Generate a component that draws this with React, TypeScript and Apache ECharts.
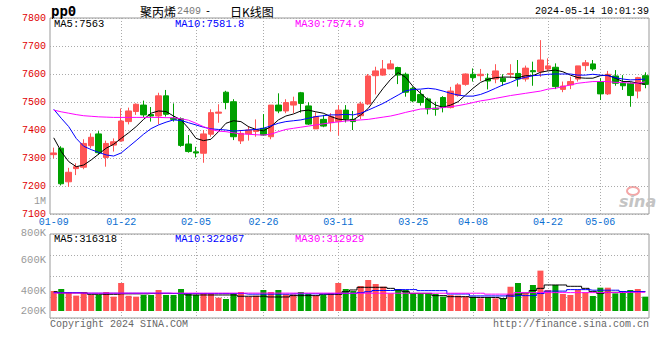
import React, { useEffect, useRef } from 'react';
import * as echarts from 'echarts';

const dates = [
  '01-09','01-10','01-11','01-12','01-15','01-16','01-17','01-18','01-19','01-22',
  '01-23','01-24','01-25','01-26','01-29','01-30','01-31','02-01','02-02','02-05',
  '02-06','02-07','02-08','02-19','02-20','02-21','02-22','02-23','02-26','02-27',
  '02-28','02-29','03-01','03-04','03-05','03-06','03-07','03-08','03-11','03-12',
  '03-13','03-14','03-15','03-18','03-19','03-20','03-21','03-22','03-25','03-26',
  '03-27','03-28','03-29','04-01','04-02','04-03','04-08','04-09','04-10','04-11',
  '04-12','04-15','04-16','04-17','04-18','04-19','04-22','04-23','04-24','04-25',
  '04-26','04-29','04-30','05-06','05-07','05-08','05-09','05-10','05-13','05-14'
];
const labelDates = ['01-09','01-22','02-05','02-26','03-11','03-25','04-08','04-22','05-06'];

const opens = [
  7312,7335,7215,7262,7267,7344,7386,7302,7346,7361,
  7430,7466,7489,7455,7450,7522,7442,7440,7350,7322,
  7317,7385,7460,7535,7501,7361,7386,7395,7406,7376,
  7489,7468,7489,7533,7486,7404,7438,7426,7430,7471,
  7438,7451,7493,7594,7596,7618,7623,7599,7549,7527,
  7511,7478,7516,7480,7523,7563,7599,7594,7585,7582,
  7585,7599,7602,7582,7612,7608,7618,7624,7545,7561,
  7582,7630,7636,7573,7529,7593,7567,7567,7539,7594
];
const closes = [
  7318,7208,7249,7269,7352,7374,7319,7352,7358,7432,
  7468,7492,7454,7450,7522,7456,7438,7345,7323,7318,
  7386,7462,7464,7498,7376,7388,7400,7400,7382,7489,
  7468,7498,7501,7495,7421,7448,7414,7448,7471,7439,
  7430,7493,7593,7611,7618,7636,7596,7535,7504,7498,
  7475,7474,7481,7539,7561,7600,7587,7599,7575,7611,
  7573,7602,7582,7621,7608,7650,7629,7555,7557,7573,
  7629,7640,7618,7529,7599,7567,7558,7523,7587,7563
];
const highs = [
  7337,7342,7265,7281,7367,7388,7396,7362,7370,7477,
  7480,7495,7505,7482,7533,7543,7495,7445,7382,7340,
  7400,7474,7492,7540,7510,7400,7414,7438,7457,7489,
  7531,7510,7519,7536,7499,7463,7454,7460,7489,7489,
  7468,7501,7600,7626,7650,7650,7626,7605,7555,7543,
  7516,7501,7521,7554,7567,7602,7620,7618,7602,7635,
  7599,7635,7650,7630,7644,7721,7656,7638,7573,7590,
  7629,7650,7650,7585,7611,7614,7596,7570,7590,7606
];
const lows = [
  7299,7202,7197,7239,7260,7335,7311,7269,7323,7358,
  7420,7454,7445,7430,7420,7448,7430,7340,7319,7302,
  7283,7376,7426,7474,7364,7350,7362,7376,7380,7367,
  7460,7460,7460,7462,7418,7404,7410,7394,7380,7427,
  7400,7439,7489,7527,7594,7618,7564,7519,7499,7487,
  7456,7451,7463,7477,7519,7558,7573,7575,7545,7567,
  7558,7585,7555,7573,7558,7590,7611,7546,7535,7546,
  7573,7611,7611,7507,7525,7558,7543,7483,7513,7549
];

const ma5 = [
  7372,7323,7287,7269,7275,7293,7314,7335,7349,7370,
  7390,7412,7438,7460,7468,7466,7450,7436,7406,7370,
  7362,7367,7394,7424,7433,7430,7412,7402,7397,7412,
  7436,7450,7457,7468,7471,7465,7460,7448,7439,7436,
  7436,7454,7477,7513,7549,7581,7605,7588,7555,7531,
  7507,7489,7481,7489,7501,7525,7549,7570,7581,7587,
  7589,7589,7587,7594,7594,7606,7611,7614,7608,7596,
  7587,7585,7585,7594,7596,7585,7573,7573,7567,7563
];
const ma10 = [
  7474,7442,7412,7370,7342,7330,7320,7311,7307,7318,
  7340,7362,7385,7405,7418,7428,7436,7434,7426,7418,
  7410,7404,7402,7400,7396,7398,7400,7402,7406,7415,
  7424,7430,7433,7436,7442,7448,7451,7454,7454,7456,
  7454,7460,7471,7483,7495,7510,7525,7540,7545,7546,
  7549,7546,7539,7531,7525,7521,7521,7527,7537,7549,
  7561,7570,7582,7588,7594,7596,7599,7600,7600,7600,
  7596,7596,7599,7596,7594,7587,7582,7579,7580,7582
];
const ma30 = [
  7471,7465,7460,7455,7451,7449,7447,7446,7445,7445,
  7445,7445,7445,7445,7445,7444,7444,7440,7435,7424,
  7412,7402,7396,7394,7390,7386,7385,7383,7382,7385,
  7394,7402,7406,7410,7414,7418,7422,7426,7429,7432,
  7434,7436,7438,7442,7446,7450,7456,7463,7469,7475,
  7476,7477,7480,7483,7487,7492,7498,7504,7508,7513,
  7518,7523,7527,7531,7535,7539,7546,7549,7555,7561,
  7567,7570,7573,7573,7573,7570,7570,7567,7567,7572
];

// volume in thousands of lots
const volumes = [
  332,365,315,255,315,266,266,315,238,465,
  255,238,266,266,349,266,266,365,293,266,
  299,299,221,199,299,315,238,255,349,315,
  349,277,277,315,282,255,266,299,465,365,
  332,415,515,448,404,293,365,349,293,293,
  293,282,238,266,255,238,238,210,221,210,
  210,404,465,293,432,670,349,432,282,266,
  349,310,249,387,387,293,332,349,365,238
];
const volMa5 = [
  320,300,300,300,300,277,277,277,277,285,
  285,285,285,290,290,290,290,290,266,266,
  266,266,266,266,266,245,245,245,245,233,
  233,233,255,255,255,255,277,277,277,321,
  349,393,393,393,393,376,349,321,293,293,
  293,255,255,238,238,238,225,225,225,225,
  205,266,266,300,340,376,432,432,432,410,
  410,376,321,293,310,310,310,321,321,321
];
const volMa10 = [
  305,305,305,305,295,295,295,295,295,295,
  295,295,295,295,295,295,290,290,290,290,
  290,290,290,290,290,290,280,280,280,280,
  280,280,285,285,285,285,285,285,293,293,
  293,305,320,340,340,340,355,355,355,338,
  338,338,338,282,282,282,250,250,250,250,
  250,245,255,255,255,290,330,330,330,355,
  355,355,345,345,345,345,323,323,323,323
];
const volMa30 = [
  297,297,297,297,297,297,297,297,297,297,
  297,297,297,297,297,297,297,297,297,297,
  297,297,297,297,297,297,297,297,297,297,
  297,297,297,297,297,297,297,297,295,295,
  295,295,295,295,295,295,295,295,295,295,
  295,295,295,295,295,295,295,295,280,280,
  280,280,305,305,305,305,305,305,305,305,
  305,305,305,305,305,305,308,310,310,312
];

const volAxisLabels = ['800K', '600K', '400K', '200K'];

const UP = '#ff5555';
const DOWN = '#00a000';
const MONO = "'Liberation Mono', 'DejaVu Sans Mono', monospace";
const GRID_LINE = { color: '#aaaaaa', type: [1, 2] as number[], width: 1 };

function txt(text: string, x: number, y: number, fill: string, font: string, align = 'left') {
  return {
    type: 'text',
    x,
    y,
    silent: true,
    style: { text, fill, font, align, textAlign: align, verticalAlign: 'middle', textVerticalAlign: 'middle' }
  };
}

export default function App() {
  const ref = useRef<HTMLDivElement>(null);

  useEffect(() => {
    if (!ref.current) return;
    const chart = echarts.init(ref.current, null, { renderer: 'svg' });
    const candleData = dates.map((_, i) => [opens[i], closes[i], lows[i], highs[i]]);
    const volData = volumes.map((v, i) => ({
      value: v,
      itemStyle: { color: closes[i] >= opens[i] ? UP : DOWN }
    }));
    const isLabel = (_i: number, v: string) => labelDates.indexOf(v) >= 0;
    const isGrid = (i: number, v: string) => i !== 0 && labelDates.indexOf(v) >= 0;
    const f10 = `10px ${MONO}`;
    const f105 = `10.5px ${MONO}`;
    const cjk = `12px 'Noto Sans CJK SC', sans-serif`;

    const volLabelY = [233, 260, 291, 311];

    chart.setOption({
      animation: false,
      backgroundColor: '#ffffff',
      grid: [
        { left: 50, top: 18, width: 599, height: 196, show: true, borderColor: '#999', borderWidth: 1, backgroundColor: 'transparent' },
        { left: 50, top: 234, width: 599, height: 84, show: true, borderColor: '#999', borderWidth: 1, backgroundColor: 'transparent' },
        { left: 50, top: 234, width: 599, height: 77, show: false }
      ],
      xAxis: [
        {
          type: 'category', gridIndex: 0, data: dates, boundaryGap: true,
          axisLine: { show: false }, axisTick: { show: false },
          axisLabel: { interval: isLabel, color: '#0a6ed1', fontSize: 10, fontFamily: MONO, margin: 3 },
          splitLine: { show: true, interval: isGrid, alignWithLabel: true, lineStyle: GRID_LINE }
        },
        {
          type: 'category', gridIndex: 1, data: dates, boundaryGap: true,
          axisLine: { show: false }, axisTick: { show: false }, axisLabel: { show: false },
          splitLine: { show: true, interval: isGrid, alignWithLabel: true, lineStyle: GRID_LINE }
        },
        {
          type: 'category', gridIndex: 2, data: dates, boundaryGap: true, show: false
        }
      ],
      yAxis: [
        {
          type: 'value', gridIndex: 0, min: 7100, max: 7800, interval: 100,
          axisLine: { show: false }, axisTick: { show: false },
          axisLabel: { color: '#e00000', fontSize: 10, fontFamily: MONO, margin: 4, formatter: (v: number) => String(v) },
          splitLine: { show: true, lineStyle: GRID_LINE }
        },
        {
          type: 'value', gridIndex: 1, min: 0, max: 4, interval: 1,
          axisLine: { show: false }, axisTick: { show: false }, axisLabel: { show: false },
          splitLine: { show: true, lineStyle: GRID_LINE }
        },
        {
          type: 'value', gridIndex: 2, min: 0, max: 1278, show: false, splitLine: { show: false }
        }
      ],
      series: [
        {
          type: 'candlestick', xAxisIndex: 0, yAxisIndex: 0, data: candleData, barWidth: 6, z: 3,
          itemStyle: { color: UP, color0: DOWN, borderColor: UP, borderColor0: DOWN, borderWidth: 1 }
        },
        { type: 'line', xAxisIndex: 0, yAxisIndex: 0, data: ma5, showSymbol: false, z: 4, lineStyle: { color: '#000', width: 1 } },
        { type: 'line', xAxisIndex: 0, yAxisIndex: 0, data: ma10, showSymbol: false, z: 4, lineStyle: { color: '#0000ff', width: 1 } },
        { type: 'line', xAxisIndex: 0, yAxisIndex: 0, data: ma30, showSymbol: false, z: 4, lineStyle: { color: '#ff00ff', width: 1 } },
        { type: 'bar', xAxisIndex: 2, yAxisIndex: 2, data: volData, barWidth: 6, z: 3 },
        { type: 'line', xAxisIndex: 2, yAxisIndex: 2, data: volMa5, step: 'middle', showSymbol: false, z: 4, lineStyle: { color: '#000', width: 1 } },
        { type: 'line', xAxisIndex: 2, yAxisIndex: 2, data: volMa10, step: 'middle', showSymbol: false, z: 4, lineStyle: { color: '#0000ff', width: 1 } },
        { type: 'line', xAxisIndex: 2, yAxisIndex: 2, data: volMa30, step: 'middle', showSymbol: false, z: 4, lineStyle: { color: '#ff00ff', width: 1 } }
      ],
      graphic: [
        txt('pp0', 51, 11, '#000', `bold 14px 'DejaVu Sans Mono', monospace`),
        txt('聚丙烯', 140, 11, '#000', cjk),
        txt('2409', 177, 11, '#777', f10),
        txt('-', 205, 11, '#000', f10),
        txt('日K线图', 230, 11, '#000', cjk),
        txt('2024-05-14 10:01:39', 649, 11, '#000', f10, 'right'),
        txt('MA5:7563', 54, 24, '#000', f105),
        txt('MA10:7581.8', 175, 24, '#0000ff', f105),
        txt('MA30:7574.9', 295, 24, '#ff00ff', f105),
        txt('1M', 46, 201, '#999', f10, 'right'),
        ...volAxisLabels.map((t, k) => txt(t, 46, volLabelY[k], '#999', f105, 'right')),
        txt('MA5:316318', 54, 239, '#000', f105),
        txt('MA10:322967', 175, 239, '#0000ff', f105),
        txt('MA30:312929', 295, 239, '#ff00ff', f105),
        txt('Copyright 2024 SINA.COM', 50, 324, '#666', f10),
        txt('http://finance.sina.com.cn', 649, 324, '#666', f10, 'right'),
        {
          type: 'ellipse', silent: true,
          shape: { cx: 633, cy: 191, rx: 6, ry: 4 },
          style: { fill: 'none', stroke: '#f4a6a6', lineWidth: 2 }
        },
        txt('sina', 619, 201, '#c4c4c4', `italic bold 16px 'DejaVu Sans', sans-serif`)
      ]
    });
    return () => chart.dispose();
  }, []);

  return <div ref={ref} style={{ position: 'fixed', left: 0, top: 0, width: 660, height: 360 }} />;
}
